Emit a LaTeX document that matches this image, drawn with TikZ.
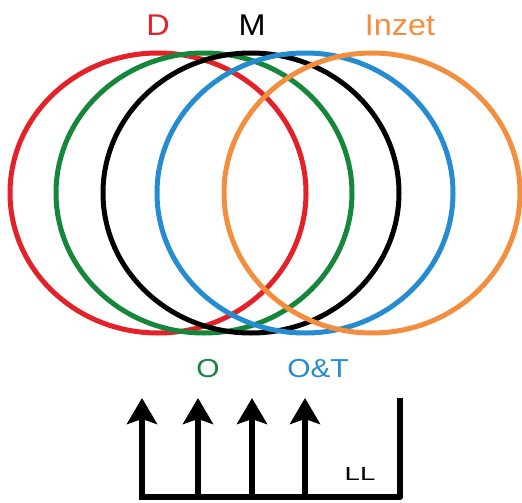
\documentclass[tikz,border=0pt]{standalone}
\usepackage{fontspec}
\setmainfont{Liberation Sans}
\usetikzlibrary{shapes.geometric, arrows.meta}
\definecolor{ring_red}		{RGB}{228,32,40}
\definecolor{ring_green}	{RGB}{22,134,58}
\definecolor{ring_blue}		{RGB}{38,140,210}
\definecolor{ring_orange}	{RGB}{242,142,62}
\begin{document}
\begin{tikzpicture}[
		x               = 1pt,
		y               = -1pt,
		ring/.style     = {draw,
			ellipse,
			inner sep      = 0pt,
			minimum width  = 296pt,
			minimum height = 280pt,
			line width     = 5pt},
		tagTop/.style   = {anchor = base,
			inner sep      = 0pt,
			xscale         = 1.08,
			font           = \fontsize{30}{34}\selectfont},
		tagBot/.style   = {anchor = base,
			inner sep      = 0pt,
			xscale         = 1.15,
			font           = \fontsize{26}{30}\selectfont},
		riser/.style    = {-{Stealth[length=26pt, width=30pt, inset=5pt]},
			line width     = 6pt},
		rail/.style     = {line width = 6pt,
			line join      = round}]
	
	\useasboundingbox (0,0) rectangle (522,503);
	
	\node[ring, draw = ring_red]    (Red)    at (158,193) {};
	\node[ring, draw = ring_green]  (Green)  at (204,193) {};
	\node[ring, draw = black]       (Black)  at (251,193) {};
	\node[ring, draw = ring_blue]   (Blue)   at (305,193) {};
	\node[ring, draw = ring_orange] (Orange) at (372,193) {};
	
	\node[tagTop, text = ring_red]    (D)     at (158,36) {D};
	\node[tagTop, text = black]       (M)     at (252,36) {M};
	\node[tagTop, text = ring_orange] (Inzet) at (400,36) {Inzet};
	
	\node[tagBot, text = ring_green] (O)  at (208,377) {O};
	\node[tagBot, text = ring_blue]  (OT) at (318,377) {O\&T};
	
	\node[anchor = base, inner sep = 0pt, xscale = 1.45,
		font = \fontsize{19}{22}\selectfont] (LL) at (360,480) {LL};
	
	% base of the arrows
	\coordinate (b1) at (142,497);
	\coordinate (b2) at (198,497);
	\coordinate (b3) at (252,497);
	\coordinate (b4) at (305,497);
	\coordinate (bR) at (400,497);
	\coordinate (t1) at (142,398);
	\coordinate (t2) at (198,398);
	\coordinate (t3) at (252,398);
	\coordinate (t4) at (305,398);
	\coordinate (tR) at (400,398);
	
	\draw[rail] (t1 |- b1) ++(-3,0) -- (bR) -- (tR);
	
	\foreach \i in {1,...,4}
		\draw[riser] (b\i) -- (t\i);
	
\end{tikzpicture}
\end{document}
